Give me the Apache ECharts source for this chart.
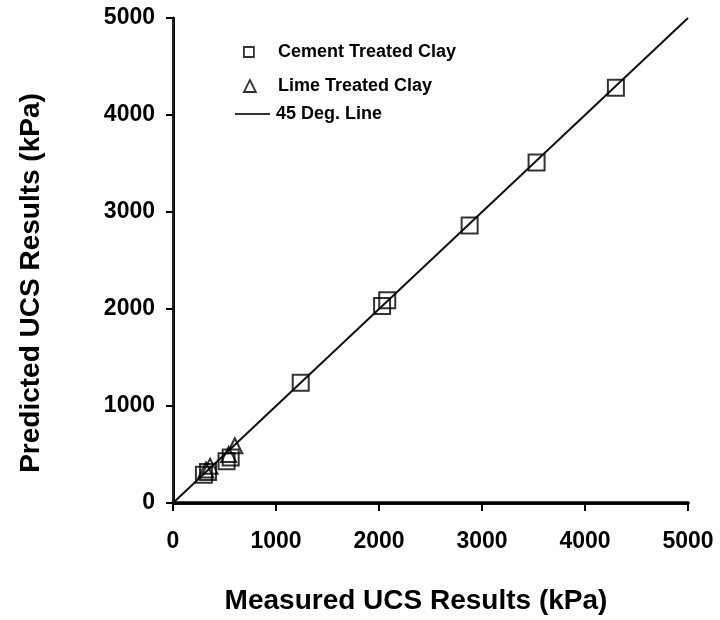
<!DOCTYPE html>
<html>
<head>
<meta charset="utf-8">
<script src="https://cdn.jsdelivr.net/npm/echarts@6/dist/echarts.min.js"></script>
<style>
  html, body { margin: 0; padding: 0; background: #fff; }
  #chart { width: 720px; height: 620px; }
</style>
</head>
<body>
<div id="chart"></div>
<script>
// Measured vs predicted unconfined compressive strength (kPa)
const axisTicks = [0, 1000, 2000, 3000, 4000, 5000];
const cementMeasured  = [300, 340, 520, 560, 1240, 2030, 2080, 2880, 3530, 4300];
const cementPredicted = [290, 320, 430, 470, 1240, 2030, 2090, 2860, 3510, 4280];
const limeMeasured  = [320, 360, 540, 600];
const limePredicted = [340, 380, 500, 590];
const equalityLine = [0, 5000];

const FONT = '"Liberation Sans", Arial, sans-serif';
const pair = (xs, ys) => xs.map((x, i) => [x, ys[i]]);

const chart = echarts.init(document.getElementById('chart'), null, { renderer: 'canvas' });

const labelStyle = { fontFamily: FONT, fontWeight: 'bold', fontSize: 23, color: '#000',
                     formatter: v => String(v) };
const legendText = { fontFamily: FONT, fontWeight: 'bold', fontSize: 18, color: '#000' };

chart.setOption({
  animation: false,
  backgroundColor: '#fff',
  grid: { left: 173, right: 32, top: 18, bottom: 117, containLabel: false },
  xAxis: [{
    type: 'value',
    min: axisTicks[0], max: axisTicks[axisTicks.length - 1], interval: 1000,
    axisLine: { show: true, onZero: false, lineStyle: { color: '#000', width: 2.5 } },
    axisTick: { show: true, inside: false, length: 8, lineStyle: { color: '#000', width: 2 } },
    axisLabel: Object.assign({ margin: 27 }, labelStyle),
    splitLine: { show: false }
  }, {
    type: 'value', position: 'top',
    min: axisTicks[0], max: axisTicks[axisTicks.length - 1],
    axisLine: { show: true, lineStyle: { color: '#000', width: 3.5 } },
    axisTick: { show: false }, axisLabel: { show: false }, splitLine: { show: false }
  }],
  yAxis: [{
    type: 'value',
    min: axisTicks[0], max: axisTicks[axisTicks.length - 1], interval: 1000,
    axisLine: { show: true, onZero: false, lineStyle: { color: '#000', width: 3 } },
    axisTick: { show: true, inside: false, length: 7, lineStyle: { color: '#000', width: 2 } },
    axisLabel: Object.assign({ margin: 18 }, labelStyle),
    splitLine: { show: false }
  }, {
    type: 'value', position: 'right',
    min: axisTicks[0], max: axisTicks[axisTicks.length - 1],
    axisLine: { show: true, lineStyle: { color: '#222', width: 2 } },
    axisTick: { show: false }, axisLabel: { show: false }, splitLine: { show: false }
  }],
  legend: [{
    data: ['Cement Treated Clay'],
    left: 243, top: 43, padding: 0, orient: 'vertical',
    itemWidth: 10, itemHeight: 10,
    itemStyle: { borderWidth: 1.8 },
    textStyle: Object.assign({ padding: [0, 0, 0, 19] }, legendText)
  }, {
    data: ['Lime Treated Clay'],
    left: 243, top: 77, padding: 0, orient: 'vertical',
    itemWidth: 12, itemHeight: 12,
    itemStyle: { borderWidth: 1.8 },
    textStyle: Object.assign({ padding: [0, 0, 0, 17] }, legendText)
  }, {
    data: [{ name: '45 Deg. Line', icon: 'rect' }],
    left: 235, top: 105, padding: 0, orient: 'vertical',
    itemWidth: 35, itemHeight: 2,
    itemStyle: { color: '#333', borderWidth: 0 },
    textStyle: Object.assign({ padding: [0, 0, 0, 1] }, legendText)
  }],
  graphic: [{
    type: 'text', x: 416, y: 601,
    style: { text: 'Measured UCS Results (kPa)', font: 'bold 28px ' + FONT,
             fill: '#000', align: 'center', verticalAlign: 'middle' }
  }, {
    type: 'text', x: 31, y: 283, rotation: Math.PI / 2,
    style: { text: 'Predicted UCS Results (kPa)', font: 'bold 28px ' + FONT,
             fill: '#000', align: 'center', verticalAlign: 'middle' }
  }],
  series: [{
    name: '45 Deg. Line',
    type: 'line',
    data: pair(equalityLine, equalityLine),
    showSymbol: false, symbol: 'none',
    itemStyle: { color: '#111' },
    lineStyle: { color: '#111', width: 2 },
    z: 1
  }, {
    name: 'Cement Treated Clay',
    type: 'scatter',
    data: pair(cementMeasured, cementPredicted),
    symbol: 'rect', symbolSize: 16,
    itemStyle: { color: 'rgba(0,0,0,0)', borderColor: '#000', borderWidth: 2 },
    z: 3
  }, {
    name: 'Lime Treated Clay',
    type: 'scatter',
    data: pair(limeMeasured, limePredicted),
    symbol: 'triangle', symbolSize: 15,
    itemStyle: { color: 'rgba(0,0,0,0)', borderColor: '#000', borderWidth: 2 },
    z: 3
  }]
});
</script>
</body>
</html>
